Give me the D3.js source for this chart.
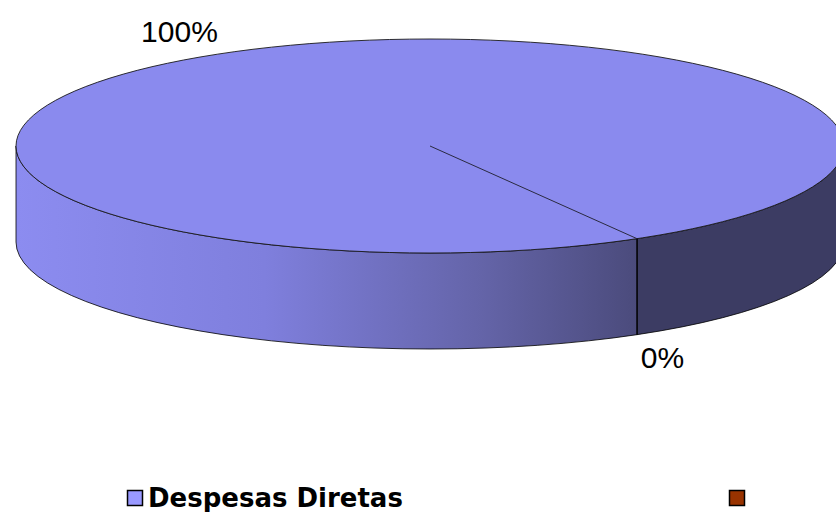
<!DOCTYPE html>
<html>
<head>
<meta charset="utf-8">
<script src="https://cdn.jsdelivr.net/npm/d3@7"></script>
<style>
  html, body { margin: 0; padding: 0; background: #fff; }
  svg { display: block; }
</style>
</head>
<body>
<svg id="chart" width="836" height="512"></svg>
<script>
// ---- data ----
const categories = ["Despesas Diretas", ""];
const values = [100, 0];
const labels = ["100%", "0%"];
const colors = ["#8A8AEE", "#993300"];
const legendColors = ["#9999FF", "#993300"];

// ---- geometry ----
const W = 836, H = 512;
const cx = 430, cy = 146, rx = 414, ry = 107, depth = 96;
const startOffset = 150 * Math.PI / 180; // rotation of first slice

const svg = d3.select("#chart");
const defs = svg.append("defs");

const pie = d3.pie().sort(null).value(d => d)
  .startAngle(startOffset).endAngle(startOffset + 2 * Math.PI);
const arcs = pie(values);

const P = (a, yoff = 0) => [cx + rx * Math.sin(a), cy - ry * Math.cos(a) + yoff];

function sidePath(a0, a1) {
  const p0 = P(a0), p1 = P(a1), q1 = P(a1, depth), q0 = P(a0, depth);
  const large = Math.abs(a1 - a0) > Math.PI ? 1 : 0;
  return `M${p0}A${rx},${ry} 0 ${large} 1 ${p1}L${q1}A${rx},${ry} 0 ${large} 0 ${q0}Z`;
}

// gradient for the front side
const grad = defs.append("linearGradient").attr("id", "sideGrad")
  .attr("gradientUnits", "userSpaceOnUse")
  .attr("x1", cx - rx).attr("x2", P(startOffset)[0]).attr("y1", 0).attr("y2", 0);
grad.append("stop").attr("offset", "0%").attr("stop-color", "#8C8CF0");
grad.append("stop").attr("offset", "40%").attr("stop-color", "#7F7FDD");
grad.append("stop").attr("offset", "75%").attr("stop-color", "#6464A8");
grad.append("stop").attr("offset", "100%").attr("stop-color", "#4B4B7C");

const big = arcs[0];
const boundary = big.startAngle; // slice boundary (150deg)
svg.append("path").attr("d", sidePath(Math.PI / 2, boundary))
  .attr("fill", "#3C3C63").attr("stroke", "#000").attr("stroke-width", 0.8);
svg.append("path").attr("d", sidePath(boundary, 3 * Math.PI / 2))
  .attr("fill", "url(#sideGrad)").attr("stroke", "#000").attr("stroke-width", 0.8);

// top ellipse
svg.append("ellipse").attr("cx", cx).attr("cy", cy).attr("rx", rx).attr("ry", ry)
  .attr("fill", colors[0]).attr("stroke", "#1a1a1a").attr("stroke-width", 0.9);

// slice boundary line on top and vertical edge on the side
const pb = P(boundary);
svg.append("line").attr("x1", cx).attr("y1", cy).attr("x2", pb[0]).attr("y2", pb[1])
  .attr("stroke", "#2a2a40").attr("stroke-width", 1);
svg.append("line").attr("x1", pb[0]).attr("y1", pb[1]).attr("x2", pb[0]).attr("y2", pb[1] + depth)
  .attr("stroke", "#000").attr("stroke-width", 1);

// labels
const labelFont = "'Liberation Sans', Arial, Helvetica, sans-serif";
arcs.forEach((a, i) => {
  const mid = (a.startAngle + a.endAngle) / 2;
  const k = 1.22;
  const x = cx + rx * k * Math.sin(mid);
  let y = cy - ry * k * Math.cos(mid);
  const front = Math.cos(mid) < 0;
  if (front) y += depth;
  svg.append("text")
    .attr("x", front ? x - 20 : x + 2)
    .attr("y", front ? y + 13 : y + 9)
    .attr("text-anchor", "middle")
    .attr("font-family", labelFont)
    .attr("font-size", 30)
    .attr("fill", "#000")
    .text(labels[i]);
});

// legend
const legendX = [127, 729];
categories.forEach((c, i) => {
  const g = svg.append("g").attr("transform", `translate(${legendX[i]},490)`);
  g.append("rect").attr("x", 0.5).attr("y", 0.5).attr("width", 15).attr("height", 15)
    .attr("fill", legendColors[i]).attr("stroke", "#000").attr("stroke-width", 1.5);
  g.append("text").attr("x", 21).attr("y", 17)
    .attr("font-family", "'DejaVu Sans', Verdana, sans-serif")
    .attr("font-weight", "bold").attr("font-size", 26)
    .attr("fill", "#000").text(c);
});
</script>
</body>
</html>
